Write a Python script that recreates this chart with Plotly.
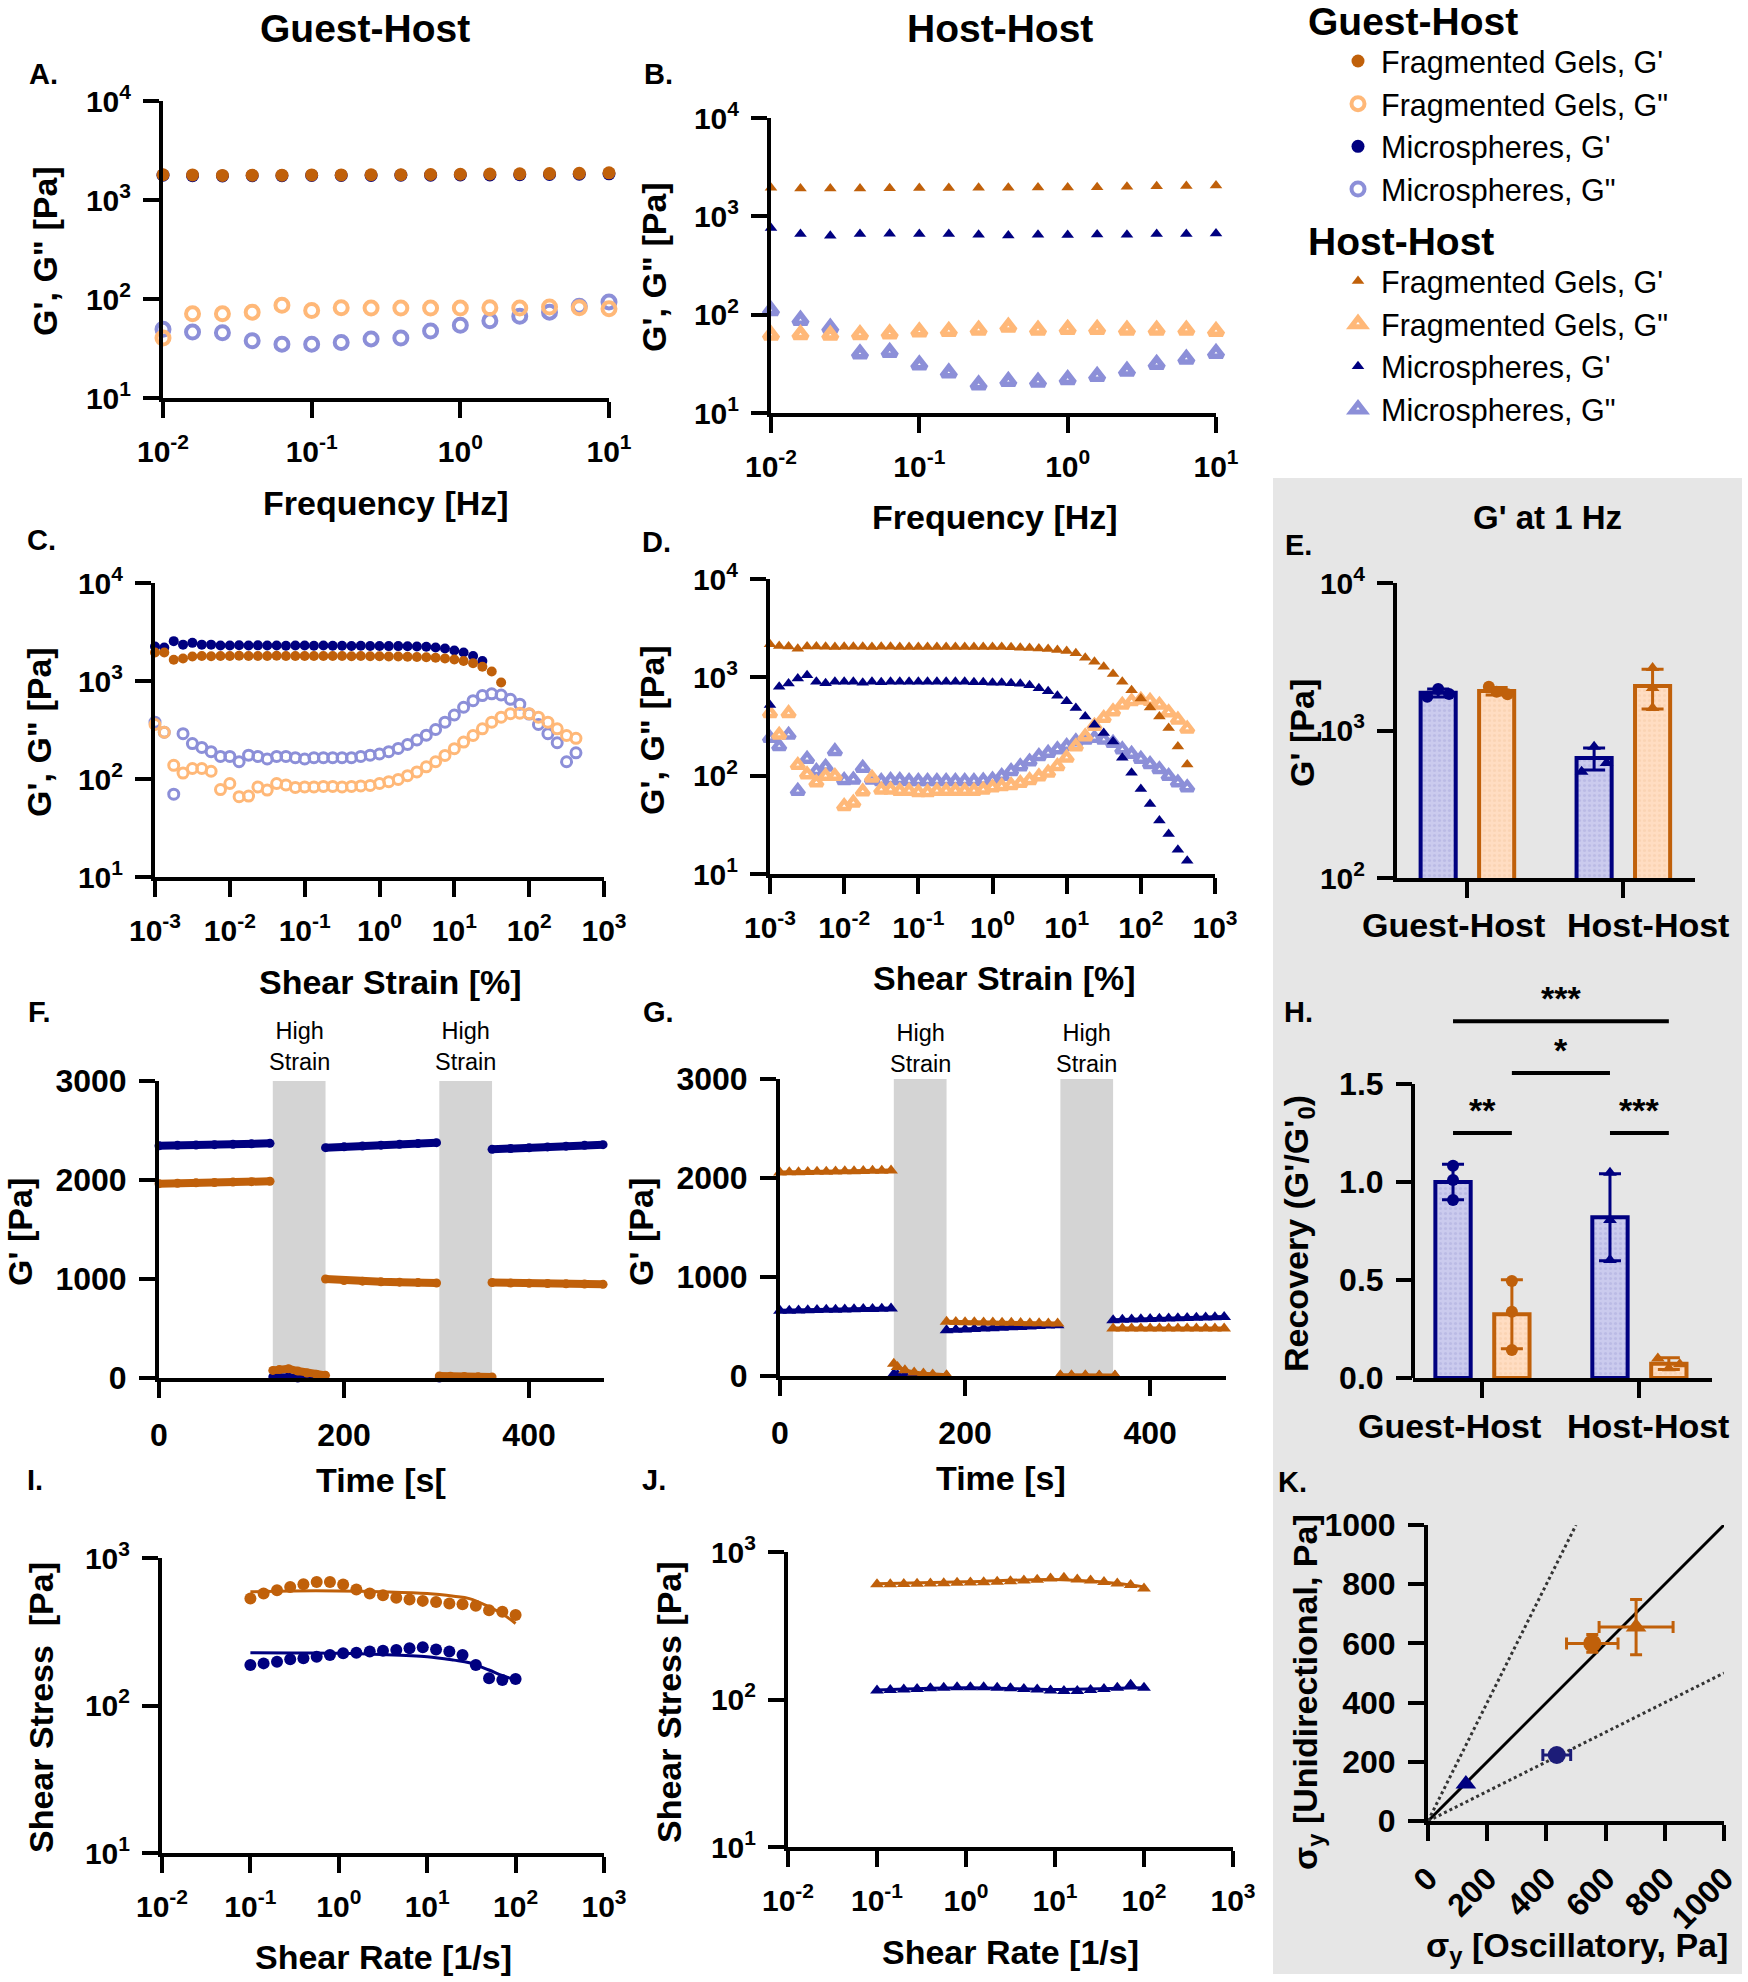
import plotly.graph_objects as go

W, H = 1748, 1982
FONT = "Liberation Sans, Arial, Helvetica, sans-serif"
ORANGE = "#C0600A"
LORANGE = "#FFB878"
NAVY = "#000080"
LBLUE = "#8C8FD8"
ORANGE_FILL = "#FFDDC2"
BLUE_FILL = "#CBCBEE"
GRAY_BG = "#E6E6E6"
BAND = "#D4D4D4"

# ---------------- data ----------------
# A / B : frequency sweeps
freq_hz = [0.01, 0.0158, 0.0251, 0.0398, 0.0631, 0.1, 0.158, 0.251, 0.398, 0.631,
           1.0, 1.58, 2.51, 3.98, 6.31, 10.0]
A_frag_Gp = [1800, 1790, 1770, 1780, 1780, 1790, 1790, 1800, 1800, 1810, 1820, 1830, 1840, 1850, 1860, 1880]
A_frag_Gpp = [40.4, 70.8, 70.8, 73.6, 86.4, 76.5, 81.6, 81, 81, 81, 81, 81.6, 81, 83, 81.6, 79.7]
A_micro_Gp = [1780, 1760, 1750, 1760, 1760, 1770, 1770, 1770, 1780, 1780, 1790, 1790, 1800, 1810, 1820, 1840]
A_micro_Gpp = [49.4, 46.3, 45.6, 37.9, 35, 35, 36.4, 39.5, 40.4, 47.5, 54.3, 60.2, 66.8, 73.6, 84.4, 93.5]

B_frag_Gp = [1950, 1920, 1920, 1920, 1930, 1940, 1940, 1950, 1950, 1960, 1970, 1980, 2000, 2020, 2030, 2060]
B_frag_Gpp = [62, 63, 62, 63, 64, 67, 68, 70, 75, 70, 71, 71, 70, 70, 70, 68]
B_micro_Gp = [760, 660, 635, 660, 665, 660, 660, 650, 640, 650, 645, 655, 650, 660, 660, 670]
B_micro_Gpp = [110, 88, 73, 40, 41.5, 31, 25.6, 19.4, 21, 20.7, 21.9, 23.7, 26.7, 31.3, 35.5, 40.6]

# C / D : strain sweeps
strain_pct = [0.001, 0.00133, 0.00178, 0.00237, 0.00316, 0.00422, 0.00562, 0.0075, 0.01, 0.0133,
              0.0178, 0.0237, 0.0316, 0.0422, 0.0562, 0.075, 0.1, 0.133, 0.178, 0.237,
              0.316, 0.422, 0.562, 0.75, 1.0, 1.33, 1.78, 2.37, 3.16, 4.22,
              5.62, 7.5, 10.0, 13.3, 17.8, 23.7, 31.6, 42.2, 56.2, 75.0,
              100.0, 133.0, 178.0, 237.0, 316.0, 422.0]
C_micro_Gp = [2250, 2200, 2550, 2350, 2450, 2350, 2350, 2300, 2300, 2320, 2300, 2310, 2300, 2300, 2290,
              2300, 2300, 2290, 2300, 2290, 2290, 2280, 2290, 2280, 2280, 2270, 2270, 2260, 2250, 2240,
              2200, 2150, 2050, 1950, 1800, 1600] + [None] * 10
C_frag_Gp = [1950, 1950, 1650, 1700, 1780, 1800, 1790, 1800, 1800, 1810, 1800, 1800, 1800, 1810, 1800,
             1800, 1800, 1800, 1800, 1800, 1800, 1790, 1800, 1790, 1790, 1780, 1780, 1770, 1760, 1750,
             1730, 1700, 1660, 1600, 1520, 1400, 1250, 966] + [None] * 8
C_micro_Gpp = [380, 300, 70, 290, 230, 210, 190, 170, 170, 150, 175, 170, 160, 170, 170,
               165, 160, 165, 165, 165, 165, 165, 170, 175, 180, 190, 205, 225, 250, 280,
               320, 380, 450, 540, 630, 710, 740, 720, 650, 580, 460, 360, 290, 235, 150, 185]
C_frag_Gpp = [360, 300, 138, 115, 128, 128, 120, 78, 90, 66, 67, 83, 77, 90, 87,
              82, 83, 83, 84, 84, 83, 84, 85, 86, 90, 94, 99, 108, 118, 133,
              150, 174, 204, 238, 278, 325, 380, 427, 464, 470, 464, 427, 380, 325, 278, 260]

D_frag_Gp = [2170, 2080, 2060, 1950, 2060, 2060, 2050, 2040, 2050, 2050, 2050, 2040, 2050, 2050, 2040,
             2040, 2040, 2040, 2040, 2040, 2040, 2040, 2040, 2040, 2030, 2030, 2020, 2000, 1990, 1970,
             1940, 1900, 1850, 1760, 1580, 1440, 1280, 1080, 900, 740, 610, 494, 400, 305, 198, 130]
D_micro_Gp = [524, 804, 868, 975, 1050, 900, 870, 900, 900, 900, 880, 900, 890, 900, 900,
              900, 900, 900, 900, 900, 900, 900, 890, 890, 880, 880, 870, 860, 830, 775,
              720, 650, 570, 488, 400, 330, 272, 223, 152, 107, 73, 51.5, 35, 25.5, 17.6, 13.6]
D_frag_Gpp = [431, 260, 431, 128, 103, 85, 99, 99, 49, 53, 69, 95, 72, 72, 70,
              70, 68, 68, 70, 70, 70, 70, 70, 72, 76, 78, 80, 84, 90, 98,
              107, 125, 152, 198, 250, 320, 385, 450, 525, 570, 590, 575, 525, 440, 370, 300]
D_micro_Gpp = [241, 199, 260, 70, 148, 111, 123, 177, 90, 91, 120, 91, 88, 90, 90,
               88, 88, 88, 88, 88, 88, 88, 88, 89, 91, 99, 111, 124, 139, 158,
               170, 185, 200, 223, 232, 241, 232, 215, 185, 166, 148, 131, 116, 99, 85, 76]

# E : G' at 1 Hz
groups = ["Guest-Host", "Host-Host"]
E_micro_mean = [1800, 650]
E_micro_sd = [110, 110]
E_frag_mean = [1850, 2000]
E_frag_sd = [110, 600]
E_micro_reps = [[1693, 1909, 1766], [526, 776, 603]]
E_frag_reps = [[1982, 1833, 1760], [2653, 1942, 1422]]

# F / G : step strain recovery
time_s = [0, 20, 40, 60, 80, 100, 120, None, 123, 130, 140, 150, 160, 170, 180, None,
          180, 200, 220, 240, 260, 280, 300, None, 303, 315, 330, 345, 360, None,
          360, 380, 400, 420, 440, 460, 480]
F_micro = [2345, 2350, 2353, 2357, 2360, 2365, 2370, None, 10, 5, 12, 0, -5, -8, -10, None,
           2327, 2335, 2343, 2352, 2360, 2368, 2377, None, 0, -5, -5, -8, -8, None,
           2310, 2318, 2326, 2334, 2342, 2350, 2357]
F_frag = [1963, 1967, 1971, 1975, 1979, 1983, 1987, None, 77, 85, 94, 70, 50, 38, 27, None,
          1000, 985, 978, 972, 968, 964, 960, None, 20, 18, 15, 12, 10, None,
          965, 960, 957, 954, 951, 949, 946]
time_G = [0, 10, 20, 30, 40, 50, 60, 70, 80, 90, 100, 110, 120, None,
          123, 127, 135, 145, 155, 165, 180, None,
          180, 190, 200, 210, 220, 230, 240, 250, 260, 270, 280, 290, 300, None,
          303, 315, 330, 345, 362, None,
          360, 370, 380, 390, 400, 410, 420, 430, 440, 450, 460, 470, 480]
G_frag = [2055, 2057, 2058, 2060, 2062, 2063, 2065, 2067, 2069, 2070, 2072, 2074, 2076, None,
          125, 90, 57, 35, 24, 15, 7, None,
          547, 546, 544, 543, 541, 540, 539, 537, 536, 534, 533, 531, 530, None,
          8, 7, 7, 6, 6, None,
          479, 479, 480, 480, 480, 481, 481, 481, 480, 480, 481, 480, 480]
G_micro = [658, 660, 662, 664, 666, 668, 670, 672, 674, 676, 678, 680, 682, None,
           20, 10, 5, 0, 0, 0, 0, None,
           462, 466, 470, 475, 479, 483, 487, 492, 496, 500, 504, 509, 513, None,
           0, 0, 0, 0, 0, None,
           564, 567, 570, 572, 575, 578, 581, 584, 586, 589, 592, 594, 597]
high_strain_windows = [(123, 180), (303, 360)]

# H : recovery
H_micro_mean = [1.0, 0.82]
H_micro_sd = [0.09, 0.222]
H_frag_mean = [0.325, 0.073]
H_frag_sd = [0.176, 0.03]
H_micro_reps = [[1.083, 1.01, 0.908], [1.047, 0.806, 0.602]]
H_frag_reps = [[0.495, 0.338, 0.143], [0.1, 0.05, 0.07]]
H_sig = [(("micro", 0), ("frag", 1), 1.82, "***"),
         (("frag", 0), ("micro", 1), 1.556, "*"),
         (("micro", 0), ("frag", 0), 1.25, "**"),
         (("micro", 1), ("frag", 1), 1.25, "***")]

# I / J : flow sweeps
shear_rate = [0.1, 0.141, 0.2, 0.282, 0.398, 0.562, 0.794, 1.12, 1.58, 2.24, 3.16, 4.47,
              6.31, 8.91, 12.6, 17.8, 25.1, 35.5, 50.1, 70.8, 100.0]
I_frag = [531, 574, 605, 637, 664, 688, 688, 661, 611, 574, 560, 537, 523, 512, 504, 491, 486, 474, 443, 432, 410]
I_micro = [188, 193, 198, 206, 209, 214, 220, 226, 228, 232, 235, 238, 244, 248, 240, 232, 220, 188, 153, 149, 151]
I_fit_rate = [0.1, 0.3, 1, 3, 10, 20, 30, 50, 70, 100]
I_frag_fit = [590, 598, 598, 590, 574, 550, 530, 467, 420, 360]
I_micro_fit = [228, 227, 226, 222, 214, 203, 195, 174, 160, 149]
J_frag = [604, 605, 607, 610, 612, 615, 618, 620, 624, 628, 633, 640, 648, 660, 668, 650, 640, 625, 612, 598, 565]
J_micro = [115, 116, 117, 118, 119, 120, 121, 121, 121, 120, 119, 118, 117, 115, 114, 114, 116, 118, 120, 126, 120]
J_fit_rate = [0.1, 1, 10, 50, 100]
J_frag_fit = [610, 628, 650, 612, 580]
J_micro_fit = [116, 120, 117, 119, 120]

# K : yield stress comparison  (x osc, y uni, x err, y err)
K_pts = {
    "gh_frag": (555, 600, 87, 30),
    "hh_frag": (703, 655, 125, 93),
    "gh_micro": (435, 223, 47, 10),
    "hh_micro": (128, 125, 0, 0),
}
K_ref_slopes = [1.0, 2.0, 0.5]
K_max = 1000

# ---------------- layout helpers ----------------
def X(p):
    return p / W


def Y(p):
    return 1 - p / H


BOXES = {  # left, right, top, bottom  (pixels)
    1: (163, 609, 101, 398),
    2: (771, 1216, 118, 413),
    3: (155, 604, 583, 877),
    4: (770, 1215, 579, 874),
    5: (1397, 1695, 583, 878),
    6: (159, 604, 1081, 1378),
    7: (780, 1226, 1079, 1376),
    8: (1413, 1712, 986, 1378),
    9: (162, 604, 1558, 1853),
    10: (788, 1233, 1552, 1847),
    11: (1428, 1724, 1525, 1821),
}

TICKFONT = dict(family=FONT, size=30, color="black", weight="bold")
TICKFONT_L = dict(family=FONT, size=32, color="black", weight="bold")


def base_axis(**kw):
    d = dict(showline=True, linecolor="black", linewidth=4, ticks="outside", ticklen=16,
             tickwidth=4, tickcolor="black", showgrid=False, zeroline=False,
             tickfont=TICKFONT, mirror=False, fixedrange=True, ticklabelstandoff=6,
             automargin=False)
    d.update(kw)
    return d


def sup(exps):
    return [f"10<sup>{e}</sup>" for e in exps]


def ax(n, c):
    return c if n == 1 else f"{c}{n}"


layout_axes = {}
for n, (l, r, t, b) in BOXES.items():
    layout_axes[ax(n, "xaxis")] = base_axis(domain=[X(l), X(r)], anchor=ax(n, "y"))
    layout_axes[ax(n, "yaxis")] = base_axis(domain=[Y(b), Y(t)], anchor=ax(n, "x"))


def log_axes(n, xr, yr):
    layout_axes[ax(n, "xaxis")].update(type="log", range=list(xr),
                                       tickvals=[10 ** e for e in range(xr[0], xr[1] + 1)],
                                       ticktext=sup(range(xr[0], xr[1] + 1)), ticklabelstandoff=8,
                                       tickangle=0)
    layout_axes[ax(n, "yaxis")].update(type="log", range=list(yr),
                                       tickvals=[10 ** e for e in range(yr[0], yr[1] + 1)],
                                       ticktext=sup(range(yr[0], yr[1] + 1)))


log_axes(1, (-2, 1), (1, 4))
log_axes(2, (-2, 1), (1, 4))
log_axes(3, (-3, 3), (1, 4))
log_axes(4, (-3, 3), (1, 4))
log_axes(9, (-2, 3), (1, 3))
log_axes(10, (-2, 3), (1, 3))

# E  (category names drawn as annotations so they do not collide)
layout_axes["xaxis5"].update(range=[-0.449, 1.462], tickvals=[0, 1], showticklabels=False)
layout_axes["yaxis5"].update(type="log", range=[2, 4], tickvals=[100, 1000, 10000], ticktext=sup([2, 3, 4]))
# F, G
for n, xr in ((6, 481), (7, 482)):
    layout_axes[ax(n, "xaxis")].update(range=[0, xr], tickvals=[0, 200, 400], tickfont=TICKFONT_L,
                                       ticklabelstandoff=10, tickangle=0)
    layout_axes[ax(n, "yaxis")].update(range=[0, 3000], tickvals=[0, 1000, 2000, 3000], tickfont=TICKFONT_L)
# H
layout_axes["xaxis8"].update(range=[-0.44, 1.465], tickvals=[0, 1], showticklabels=False)
layout_axes["yaxis8"].update(range=[0, 2.0], tickvals=[0, 0.5, 1.0, 1.5], ticktext=["0.0", "0.5", "1.0", "1.5"],
                             showline=False, tickfont=TICKFONT_L)
# K
layout_axes["xaxis11"].update(range=[0, K_max], tickvals=[0, 200, 400, 600, 800, 1000], tickangle=-45,
                              tickfont=TICKFONT_L)
layout_axes["yaxis11"].update(range=[0, K_max], tickvals=[0, 200, 400, 600, 800, 1000], tickfont=TICKFONT_L)

fig = go.Figure()


def xy(n):
    return dict(xaxis=ax(n, "x"), yaxis=ax(n, "y"))


def sc(n, x, y, color, symbol, size, lw=0, open_=False, **kw):
    mk = dict(color=color, symbol=symbol, size=size)
    if open_:
        mk["line"] = dict(color=color, width=lw)
    else:
        mk["line"] = dict(width=0)
    d = dict(x=x, y=y, mode="markers", marker=mk, cliponaxis=False, showlegend=False)
    d.update(xy(n))
    d.update(kw)
    return go.Scatter(**d)


# ---- A (Guest-Host legend) ----
fig.add_trace(sc(1, freq_hz, A_micro_Gpp, LBLUE, "circle-open", 13, 4, True, name='Microspheres, G"',
                 showlegend=True, legend="legend", legendrank=4))
fig.add_trace(sc(1, freq_hz, A_frag_Gpp, LORANGE, "circle-open", 13, 4, True, name='Fragmented Gels, G"',
                 showlegend=True, legend="legend", legendrank=2))
fig.add_trace(sc(1, freq_hz, A_micro_Gp, NAVY, "circle", 13, name="Microspheres, G'",
                 showlegend=True, legend="legend", legendrank=3))
fig.add_trace(sc(1, freq_hz, A_frag_Gp, ORANGE, "circle", 13, name="Fragmented Gels, G'",
                 showlegend=True, legend="legend", legendrank=1))
# ---- B (Host-Host legend) ----
fig.add_trace(sc(2, freq_hz, B_micro_Gpp, LBLUE, "triangle-up-open", 12, 5.5, True, name='Microspheres, G"',
                 showlegend=True, legend="legend2", legendrank=4))
fig.add_trace(sc(2, freq_hz, B_frag_Gpp, LORANGE, "triangle-up-open", 12, 5.5, True, name='Fragmented Gels, G"',
                 showlegend=True, legend="legend2", legendrank=2))
fig.add_trace(sc(2, freq_hz, B_micro_Gp, NAVY, "triangle-up", 11, name="Microspheres, G'",
                 showlegend=True, legend="legend2", legendrank=3))
fig.add_trace(sc(2, freq_hz, B_frag_Gp, ORANGE, "triangle-up", 11, name="Fragmented Gels, G'",
                 showlegend=True, legend="legend2", legendrank=1))
# ---- C ----
fig.add_trace(sc(3, strain_pct, C_micro_Gpp, LBLUE, "circle-open", 10, 3, True))
fig.add_trace(sc(3, strain_pct, C_frag_Gpp, LORANGE, "circle-open", 10, 3, True))
fig.add_trace(sc(3, strain_pct, C_micro_Gp, NAVY, "circle", 10))
fig.add_trace(sc(3, strain_pct, C_frag_Gp, ORANGE, "circle", 10))
# ---- D ----
fig.add_trace(sc(4, strain_pct, D_micro_Gpp, LBLUE, "triangle-up-open", 11, 4.5, True))
fig.add_trace(sc(4, strain_pct, D_frag_Gpp, LORANGE, "triangle-up-open", 11, 4.5, True))
fig.add_trace(sc(4, strain_pct, D_micro_Gp, NAVY, "triangle-up", 11))
fig.add_trace(sc(4, strain_pct, D_frag_Gp, ORANGE, "triangle-up", 11))

# ---- E and H bar charts ----
GROUP_OFFSET = {"micro": -0.185, "frag": 0.19}
BAR_W = 0.225
REP_SYMBOLS = ["circle", "triangle-up"]


def bar_panel(n, micro_mean, micro_sd, frag_mean, frag_sd, micro_reps, frag_reps, jitter):
    for key, mean, sd, reps, dark, fill in (("micro", micro_mean, micro_sd, micro_reps, NAVY, BLUE_FILL),
                                            ("frag", frag_mean, frag_sd, frag_reps, ORANGE, ORANGE_FILL)):
        xs = [i + GROUP_OFFSET[key] for i in range(len(groups))]
        fig.add_trace(go.Bar(x=xs, y=mean, width=BAR_W, showlegend=False,
                             marker=dict(color=fill, line=dict(color=dark, width=4),
                                         pattern=dict(shape=".", fgcolor=dark, fgopacity=0.08, size=5, solidity=0.3)),
                             error_y=dict(type="data", array=sd, color=dark, thickness=3, width=11),
                             **xy(n)))
        rx, ry, rs = [], [], []
        for i, rep in enumerate(reps):
            for j, v in enumerate(rep):
                rx.append(i + GROUP_OFFSET[key] + jitter[key][i][j])
                ry.append(v)
                rs.append(REP_SYMBOLS[i])
        fig.add_trace(go.Scatter(x=rx, y=ry, mode="markers", cliponaxis=False, showlegend=False,
                                 marker=dict(color=dark, symbol=rs, size=12, line=dict(width=0)), **xy(n)))


bar_panel(5, E_micro_mean, E_micro_sd, E_frag_mean, E_frag_sd, E_micro_reps, E_frag_reps,
          {"micro": [[-0.07, 0, 0.07], [-0.08, 0, 0.08]], "frag": [[-0.05, 0, 0.07], [0, 0, 0]]})
bar_panel(8, H_micro_mean, H_micro_sd, H_frag_mean, H_frag_sd, H_micro_reps, H_frag_reps,
          {"micro": [[0, 0, 0], [0, 0, 0]], "frag": [[0, 0, 0], [-0.07, 0, 0.07]]})

# ---- F ----
fig.add_trace(go.Scatter(x=time_s, y=F_micro, mode="lines+markers", cliponaxis=False, showlegend=False,
                         line=dict(color=NAVY, width=8), marker=dict(color=NAVY, size=9), **xy(6)))
fig.add_trace(go.Scatter(x=time_s, y=F_frag, mode="lines+markers", cliponaxis=False, showlegend=False,
                         line=dict(color=ORANGE, width=8), marker=dict(color=ORANGE, size=9), **xy(6)))
# ---- G ----
fig.add_trace(go.Scatter(x=time_G, y=G_micro, mode="lines+markers", cliponaxis=False, showlegend=False,
                         line=dict(color=NAVY, width=4), marker=dict(color=NAVY, size=12, symbol="triangle-up"),
                         **xy(7)))
fig.add_trace(go.Scatter(x=time_G, y=G_frag, mode="lines+markers", cliponaxis=False, showlegend=False,
                         line=dict(color=ORANGE, width=4), marker=dict(color=ORANGE, size=12, symbol="triangle-up"),
                         **xy(7)))

# ---- I ----
fig.add_trace(sc(9, shear_rate, I_frag, ORANGE, "circle", 12))
fig.add_trace(sc(9, shear_rate, I_micro, NAVY, "circle", 12))
fig.add_trace(go.Scatter(x=I_fit_rate, y=I_frag_fit, mode="lines", line=dict(color=ORANGE, width=3, shape="spline"),
                         showlegend=False, **xy(9)))
fig.add_trace(go.Scatter(x=I_fit_rate, y=I_micro_fit, mode="lines", line=dict(color=NAVY, width=3, shape="spline"),
                         showlegend=False, **xy(9)))
# ---- J ----
fig.add_trace(go.Scatter(x=J_fit_rate, y=J_frag_fit, mode="lines", line=dict(color=ORANGE, width=3, shape="spline"),
                         showlegend=False, **xy(10)))
fig.add_trace(go.Scatter(x=J_fit_rate, y=J_micro_fit, mode="lines", line=dict(color=NAVY, width=3, shape="spline"),
                         showlegend=False, **xy(10)))
fig.add_trace(sc(10, shear_rate, J_frag, ORANGE, "triangle-up", 12))
fig.add_trace(sc(10, shear_rate, J_micro, NAVY, "triangle-up", 12))

# ---- K ----
for slope, dash in zip(K_ref_slopes, ["solid", "dot", "dot"]):
    xend = min(K_max, K_max / slope)
    fig.add_trace(go.Scatter(x=[0, xend], y=[0, slope * xend], mode="lines", showlegend=False,
                             line=dict(color="black" if dash == "solid" else "#333333", width=3, dash=dash),
                             **xy(11)))
K_style = {"gh_frag": (ORANGE, "circle"), "hh_frag": (ORANGE, "triangle-up"),
           "gh_micro": ("#1C1C78", "circle"), "hh_micro": (NAVY, "triangle-up")}
for key, (xv, yv, xe, ye) in K_pts.items():
    col, sym = K_style[key]
    fig.add_trace(go.Scatter(x=[xv], y=[yv], mode="markers", cliponaxis=False, showlegend=False,
                             marker=dict(color=col, symbol=sym, size=18),
                             error_x=dict(type="data", array=[xe], color=col, thickness=3, width=6, visible=xe > 0),
                             error_y=dict(type="data", array=[ye], color=col, thickness=3, width=6, visible=ye > 0),
                             **xy(11)))

# ---------------- shapes ----------------
shapes = [dict(type="rect", xref="paper", yref="paper", x0=X(1273), x1=X(1742), y0=Y(1974), y1=Y(478),
               fillcolor=GRAY_BG, line=dict(width=0), layer="below")]
for n in (6, 7):
    for (t0, t1) in high_strain_windows:
        shapes.append(dict(type="rect", xref=ax(n, "x"), yref=ax(n, "y"), x0=t0, x1=t1, y0=0, y1=3000,
                           fillcolor=BAND, line=dict(width=0), layer="below"))
# H y-axis line (0 .. 1.5)
shapes.append(dict(type="line", xref="x8 domain", yref="y8", x0=0, x1=0, y0=0, y1=1.5,
                   line=dict(color="black", width=4)))
annotations = []
for (ga, gb, yl, lab) in H_sig:
    xa = ga[1] + GROUP_OFFSET[ga[0]]
    xb = gb[1] + GROUP_OFFSET[gb[0]]
    shapes.append(dict(type="line", xref="x8", yref="y8", x0=xa, x1=xb, y0=yl, y1=yl,
                       line=dict(color="black", width=4)))
    annotations.append(dict(xref="x8", yref="y8", x=(xa + xb) / 2, y=yl, text=f"<b>{lab}</b>",
                            showarrow=False, yanchor="bottom", yshift=2,
                            font=dict(family=FONT, size=34, color="black")))


def txt(x, y, s, size, bold=True, angle=0, xanchor="center"):
    annotations.append(dict(xref="paper", yref="paper", x=X(x), y=Y(y), text=(f"<b>{s}</b>" if bold else s),
                            showarrow=False, xanchor=xanchor, yanchor="middle", textangle=angle,
                            font=dict(family=FONT, size=size, color="black")))


txt(365, 28, "Guest-Host", 39)
txt(1000, 28, "Host-Host", 39)
for lab, (x, y) in {"A.": (43, 74), "B.": (658, 74), "C.": (41, 540), "D.": (656, 542), "E.": (1298, 545),
                    "F.": (39, 1012), "G.": (658, 1012), "H.": (1298, 1012), "I.": (35, 1480),
                    "J.": (654, 1480), "K.": (1292, 1482)}.items():
    txt(x, y, lab, 29)
# category labels for E and H
for (cx, cy) in ((1453, 925), (1449, 1426)):
    txt(cx, cy, groups[0], 34)
for (cx, cy) in ((1648, 925), (1648, 1426)):
    txt(cx, cy, groups[1], 34)
# x titles
txt(386, 503, "Frequency [Hz]", 34)
txt(995, 517, "Frequency [Hz]", 34)
txt(390, 982, "Shear Strain [%]", 34)
txt(1004, 978, "Shear Strain [%]", 34)
txt(381, 1480, "Time [s[", 34)
txt(1001, 1478, "Time [s]", 34)
txt(383, 1957, "Shear Rate [1/s]", 34)
txt(1010, 1952, "Shear Rate [1/s]", 34)
txt(1577, 1947, "σ<sub>y</sub> [Oscillatory, Pa]", 34)
txt(1547, 517, "G' at 1 Hz", 33)
# y titles
txt(45, 251, 'G\', G" [Pa]', 34, angle=-90)
txt(654, 267, 'G\', G" [Pa]', 34, angle=-90)
txt(39, 732, 'G\', G" [Pa]', 34, angle=-90)
txt(652, 730, 'G\', G" [Pa]', 34, angle=-90)
txt(1302, 733, "G' [Pa]", 34, angle=-90)
txt(20, 1232, "G' [Pa]", 34, angle=-90)
txt(641, 1232, "G' [Pa]", 34, angle=-90)
txt(1298, 1234, "Recovery (G'/G'<sub>0</sub>)", 34, angle=-90)
txt(41, 1708, "Shear Stress\u00a0 [Pa]", 34, angle=-90)
txt(669, 1702, "Shear Stress [Pa]", 34, angle=-90)
txt(1307, 1692, "σ<sub>y</sub> [Unidirectional, Pa]", 34, angle=-90)
# High strain labels
for n, yc in ((6, 1046), (7, 1048)):
    for (t0, t1) in high_strain_windows:
        annotations.append(dict(xref=ax(n, "x"), yref="paper", x=(t0 + t1) / 2, y=Y(yc), text="High<br>Strain",
                                showarrow=False, yanchor="middle",
                                font=dict(family=FONT, size=23.5, color="black")))

LEG = dict(xanchor="left", yanchor="top", orientation="v", font=dict(family=FONT, size=30.5, color="black"),
           indentation=29, itemwidth=36, tracegroupgap=0, bgcolor="rgba(0,0,0,0)", borderwidth=0,
           itemsizing="trace")
leg1 = dict(LEG, x=X(1306), y=Y(-16), title=dict(text="<b>Guest-Host</b>", font=dict(family=FONT, size=39, color="black")))
leg2 = dict(LEG, x=X(1306), y=Y(204), title=dict(text="<b>Host-Host</b>", font=dict(family=FONT, size=39, color="black")))

fig.update_layout(width=W, height=H, margin=dict(l=0, r=0, t=0, b=0, autoexpand=False),
                  paper_bgcolor="white", plot_bgcolor="rgba(0,0,0,0)",
                  font=dict(family=FONT, color="black"),
                  shapes=shapes, annotations=annotations, legend=leg1, legend2=leg2,
                  barmode="overlay", **layout_axes)

fig.write_html("out.html", include_plotlyjs=True, config={"displayModeBar": False},
               post_script="document.body.style.margin='0';")
